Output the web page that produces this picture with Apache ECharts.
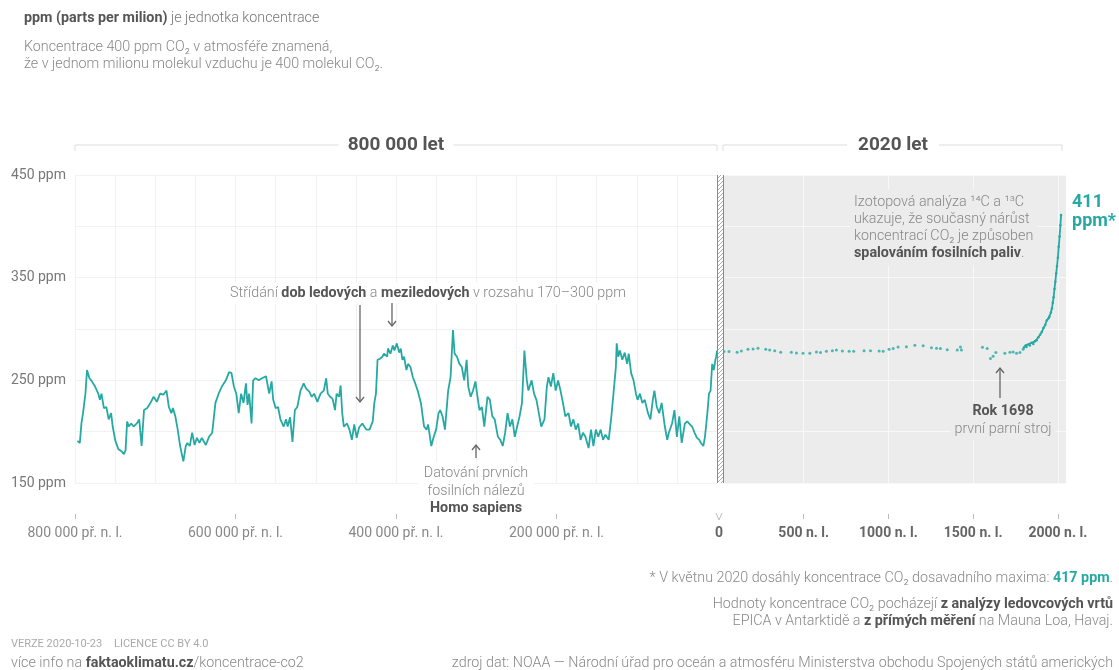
<!DOCTYPE html>
<html>
<head>
<meta charset="utf-8">
<title>Koncentrace CO2</title>
<script src="https://cdn.jsdelivr.net/npm/echarts@6/dist/echarts.min.js"></script>
<style>
  html, body { margin: 0; padding: 0; background: #fff; }
  #chart { width: 1119px; height: 670px; }
</style>
</head>
<body>
<div id="chart"></div>
<script>
var teal = '#27a9a3';
var FONT = 'Roboto, "Noto Sans", sans-serif';

// ledovcove vrty EPICA: tisice let (zaporne = pr. n. l.), ppm
var iceYears = [-797,-794,-792,-790,-787,-785,-782,-779,-775,-771,-769,-767,-764,-761,-758,-755,-753,-750,-746,-742,
  -739,-737,-735,-733,-730,-727,-723,-720,-717,-714,-710,-706,-702,-698,-694,-690,-686,-683,-680,-678,
  -675,-672,-669,-665,-662,-660,-657,-654,-651,-648,-645,-642,-637,-633,-629,-625,-621,-617,-612,-608,
  -605,-602,-599,-596,-593,-590,-587,-585,-583,-580,-578,-575,-571,-567,-562,-558,-555,-553,-550,-547,
  -544,-540,-537,-535,-532,-529,-526,-523,-519,-515,-512,-508,-505,-502,-498,-494,-490,-487,-485,-482,
  -479,-476,-474,-471,-469,-467,-465,-461,-458,-455,-452,-449,-446,-442,-437,-433,-429,-427,-425,-423,
  -420,-417,-415,-411,-410,-407,-404,-402,-399,-396,-394,-392,-390,-387,-385,-382,-379,-376,-373,-369,
  -365,-362,-360,-356,-353,-350,-347,-345,-342,-339,-335,-332,-329,-327,-324,-321,-318,-315,-312,-310,
  -307,-304,-301,-299,-296,-293,-290,-286,-283,-280,-277,-273,-270,-267,-264,-261,-258,-255,-252,-249,
  -246,-243,-240,-237,-235,-231,-228,-225,-222,-219,-215,-212,-210,-207,-204,-201,-198,-195,-192,-189,
  -185,-182,-179,-176,-173,-170,-167,-164,-160,-157,-154,-151,-148,-145,-142,-139,-135,-132,-129,-126,
  -125,-123,-121,-118,-115,-112,-110,-107,-104,-101,-99,-96,-93,-90,-86,-83,-80,-78,-75,-72,
  -69,-65,-62,-60,-56,-53,-50,-47,-44,-40,-37,-35,-31,-28,-25,-22,-20,-17,-15,-12,
  -10,-8,-6,-4,-2,-1,0];
var icePpm = [191,189,208,218,237,260,252,249,244,237,231,237,223,224,212,218,205,192,183,181,
  178,182,210,205,208,205,208,212,186,221,223,228,234,229,237,236,240,224,218,223,
  215,202,186,171,186,189,186,199,187,194,189,194,187,195,199,228,237,244,250,258,
  257,244,237,218,237,228,247,226,237,208,250,252,250,252,254,237,249,231,223,224,
  212,205,212,205,214,190,221,224,240,247,242,239,234,237,229,237,240,252,237,234,
  232,221,237,234,245,218,205,208,202,192,207,194,204,208,202,202,210,228,237,270,
  271,273,276,273,281,276,284,279,286,277,281,270,273,260,266,263,253,247,240,228,
  205,202,207,186,195,202,218,221,215,202,240,253,299,276,273,266,263,250,270,244,
  234,240,249,237,221,224,205,234,231,215,212,195,192,186,199,218,205,212,195,205,
  215,228,279,250,240,250,237,231,218,205,212,244,253,244,257,240,250,240,228,215,
  218,205,212,202,208,192,199,195,184,202,186,202,195,202,192,197,192,212,237,263,
  286,273,279,270,277,266,276,257,250,237,231,237,228,231,218,212,231,240,224,218,
  228,205,192,199,208,221,195,215,189,208,210,208,205,199,194,192,189,186,195,218,
  237,240,266,260,270,273,279];

// 0 - 1795 n. l. (ridke body)
var oldYears = [29,59,107,132,171,201,230,276,299,329,364,427,457,496,536,575,599,634,669,693,728,
  768,795,856,894,945,969,1004,1028,1057,1106,1156,1205,1254,1284,1307,1347,1406,1425,1431,1555,
  1583,1602,1618,1634,1687,1717,1736,1756,1776,1795];
var oldPpm = [278,278,277.3,278.6,280.2,280.5,281.2,280.2,279.6,278.9,277.3,277.3,276.7,276.3,276.3,277.6,277,278.3,278.9,279.6,278.6,
  278.3,278.3,278.9,278.9,278.6,278.3,280.2,280.9,282.5,282.8,284.1,283.8,281.8,281.2,280.9,279.9,279.6,282.5,279.6,282.2,
  280.9,271.2,273.4,277,276.3,277.3,277.6,276.3,277,280.2];

// 1800 - 2019 n. l.
var newYears = [1800,1810,1815,1825,1835,1845,1855,1865,1875,1885,1895,1905,1915,1925,1935,1945,1950,1959,1965,1970,
  1975,1980,1985,1990,1995,2000,2005,2010,2015,2019];
var newPpm = [282,284,282.5,285,284,286.5,285.5,288,289,292,294.5,297,301,304,308.5,310.5,312,316,320,325.5,
  331,339,346,354,361,369.5,380,390,401,411];

var leftTicks = [-800, -600, -400, -200];
var rightTicks = [500, 1000, 1500, 2000];
var rightLabels = [0, 500, 1000, 1500, 2000];

function zip(a, b) { return a.map(function (v, i) { return [v, b[i]]; }); }

function txt(x, y, text, o) {
  o = o || {};
  var size = o.size || 14.3, lh = o.lh || size + 3;
  var base = o.color || '#888', w = o.weight || 300;
  function mk(fill, weight) { return {fill: fill, fontSize: size, fontWeight: weight, fontFamily: FONT, lineHeight: lh}; }
  return {
    type: 'text', x: x, y: y, z: 100,
    style: {
      text: text, fill: base, fontSize: size, fontWeight: w, fontFamily: FONT, lineHeight: lh,
      align: o.align || 'left', textAlign: o.align || 'left',
      verticalAlign: 'middle', textVerticalAlign: 'middle',
      backgroundColor: o.bg, padding: o.pad,
      rich: { n: mk(base, w), b: mk('#555', 'bold'), t: mk(teal, 'bold') }
    }
  };
}

function arrow(x, y1, y2) {
  var d = y2 > y1 ? -1 : 1;
  var st = {stroke: '#666', lineWidth: 1.3, fill: null};
  return [
    {type: 'line', z: 100, shape: {x1: x, y1: y1, x2: x, y2: y2}, style: st},
    {type: 'polyline', z: 100, shape: {points: [[x - 4, y2 + d * 5], [x, y2], [x + 4, y2 + d * 5]]}, style: st}
  ];
}

function bracket(x1, x2, y) {
  return {type: 'polyline', z: 90, shape: {points: [[x1, y + 6], [x1, y], [x2, y], [x2, y + 6]]},
    style: {stroke: '#ddd', lineWidth: 1, fill: null}};
}

// srafovany pruh na rozhrani
var pc = document.createElement('canvas');
pc.width = 4; pc.height = 4;
var pctx = pc.getContext('2d');
pctx.fillStyle = '#fff'; pctx.fillRect(0, 0, 4, 4);
pctx.strokeStyle = '#aaa'; pctx.lineWidth = 1;
pctx.beginPath();
pctx.moveTo(-1, 1); pctx.lineTo(1, -1);
pctx.moveTo(0, 4); pctx.lineTo(4, 0);
pctx.moveTo(3, 5); pctx.lineTo(5, 3);
pctx.stroke();

var chart = echarts.init(document.getElementById('chart'));

var yBase = {
  type: 'value', min: 150, max: 450, interval: 50,
  axisLine: {show: false}, axisTick: {show: false}
};

chart.setOption({
  animation: false,
  textStyle: {fontFamily: FONT},
  grid: [
    {left: 75, top: 175, width: 642, height: 308},
    {left: 719, top: 175, width: 347, height: 308, show: true, backgroundColor: '#ececec', borderWidth: 0}
  ],
  xAxis: [
    {
      type: 'value', gridIndex: 0, min: -800, max: 0, interval: 200, offset: 31,
      axisLine: {show: false},
      axisTick: {show: true, length: 5, lineStyle: {color: '#bbb'}, customValues: leftTicks},
      axisLabel: {customValues: leftTicks, formatter: function (v) { return (-v) + ' 000 př. n. l.'; },
        color: '#888', fontSize: 14, margin: 12},
      splitLine: {show: true, lineStyle: {color: '#f1f1f1'}},
      minorTick: {show: false, splitNumber: 4},
      minorSplitLine: {show: true, lineStyle: {color: '#f1f1f1'}}
    },
    {
      type: 'value', gridIndex: 1, min: 0, max: 2048, interval: 500, offset: 31,
      axisLine: {show: false},
      axisTick: {show: true, length: 5, lineStyle: {color: '#bbb'}, customValues: rightTicks},
      axisLabel: {customValues: rightLabels, formatter: function (v) { return v === 0 ? '0' : v + ' n. l.'; },
        color: '#666', fontWeight: 'bold', fontSize: 14, margin: 12},
      splitLine: {show: true, lineStyle: {color: '#f8f8f8'}}
    }
  ],
  yAxis: [
    Object.assign({}, yBase, {
      gridIndex: 0,
      axisLabel: {formatter: function (v) { return (v - 150) % 100 === 0 ? v + ' ppm' : ''; },
        color: '#777', fontSize: 14, margin: 9},
      splitLine: {show: true, lineStyle: {color: '#f1f1f1'}}
    }),
    Object.assign({}, yBase, {
      gridIndex: 1, axisLabel: {show: false},
      splitLine: {show: true, lineStyle: {color: '#f8f8f8'}}
    })
  ],
  series: [
    {type: 'line', xAxisIndex: 0, yAxisIndex: 0, data: zip(iceYears, icePpm), showSymbol: false,
      lineStyle: {color: teal, width: 1.8}, itemStyle: {color: teal}},
    {type: 'scatter', xAxisIndex: 1, yAxisIndex: 1, data: zip(oldYears, oldPpm), symbolSize: 3,
      itemStyle: {color: teal}},
    {type: 'line', xAxisIndex: 1, yAxisIndex: 1, data: zip(newYears, newPpm), showSymbol: true,
      symbol: 'circle', symbolSize: 2.5, lineStyle: {color: teal, width: 1.8}, itemStyle: {color: teal}}
  ]
});

var joinX = chart.convertToPixel({xAxisIndex: 0}, 0);
var topY = chart.convertToPixel({yAxisIndex: 0}, 450);
var botY = chart.convertToPixel({yAxisIndex: 0}, 150);
var zeroR = chart.convertToPixel({xAxisIndex: 1}, 0);

var els = [
  // srafa
  {type: 'rect', z: 95, shape: {x: joinX, y: topY, width: 6, height: botY - topY},
    style: {fill: {image: pc, repeat: 'repeat'}, stroke: null}},
  {type: 'line', z: 96, shape: {x1: joinX + 0.5, y1: topY, x2: joinX + 0.5, y2: botY}, style: {stroke: '#888', lineWidth: 1}},
  {type: 'line', z: 96, shape: {x1: joinX + 6.5, y1: topY, x2: joinX + 6.5, y2: botY}, style: {stroke: '#888', lineWidth: 1}},
  // V pod nulou
  {type: 'polyline', z: 96, shape: {points: [[zeroR - 3, 513], [zeroR, 520], [zeroR + 3, 513]]},
    style: {stroke: '#bbb', lineWidth: 1, fill: null}},
  // zahlavi
  bracket(75, 717, 145),
  bracket(723, 1062, 145),
  txt(396, 145, '800 000 let', {size: 19, weight: 'bold', color: '#555', align: 'center', bg: '#fff', pad: [2, 9]}),
  txt(893, 145, '2020 let', {size: 19, weight: 'bold', color: '#555', align: 'center', bg: '#fff', pad: [2, 11]}),
  // uvodni text
  txt(24, 18, '{b|ppm (parts per milion)} je jednotka koncentrace', {color: '#777'}),
  txt(24, 47, 'Koncentrace 400 ppm CO₂ v atmosféře znamená,'),
  txt(24, 64, 'že v jednom milionu molekul vzduchu je 400 molekul CO₂.'),
  // anotace
  txt(428, 293, 'Střídání {b|dob ledových} a {b|meziledových} v rozsahu 170–300 ppm', {align: 'center', bg: '#fff', pad: [2, 4]}),
  txt(476, 491, 'Datování prvních\nfosilních nálezů\n{b|Homo sapiens}', {align: 'center', bg: '#fff', pad: [3, 6], lh: 17.5}),
  txt(850, 227.5, 'Izotopová analýza ¹⁴C a ¹³C\nukazuje, že současný nárůst\nkoncentrací CO₂ je způsoben\n{b|spalováním fosilních paliv}.',
    {bg: '#ececec', pad: [4, 4], lh: 17}),
  txt(1072, 212, '411\nppm*', {size: 18, weight: 'bold', color: teal, lh: 19}),
  txt(1003, 420.5, '{b|Rok 1698}\nprvní parní stroj', {align: 'center', bg: '#ececec', pad: [2, 4], lh: 17.6}),
  // paticka
  txt(1113, 578, '* V květnu 2020 dosáhly koncentrace CO₂ dosavadního maxima: {t|417 ppm}.', {align: 'right'}),
  txt(1113, 604, 'Hodnoty koncentrace CO₂ pocházejí {b|z analýzy ledovcových vrtů}', {align: 'right'}),
  txt(1113, 621, 'EPICA v Antarktidě a {b|z přímých měření} na Mauna Loa, Havaj.', {align: 'right'}),
  txt(1113, 663, 'zdroj dat: NOAA — Národní úřad pro oceán a atmosféru Ministerstva obchodu Spojených států amerických', {align: 'right'}),
  txt(11, 644, 'VERZE 2020-10-23', {size: 11, color: '#aaa', weight: 400}),
  txt(114, 644, 'LICENCE CC BY 4.0', {size: 11, color: '#aaa', weight: 400}),
  txt(11, 663, 'více info na {b|faktaoklimatu.cz}/koncentrace-co2')
];
els = els.concat(arrow(360, 305, 402), arrow(392, 303, 326), arrow(476, 458, 445), arrow(1000, 398, 368));

chart.setOption({graphic: {elements: els}});
</script>
</body>
</html>
